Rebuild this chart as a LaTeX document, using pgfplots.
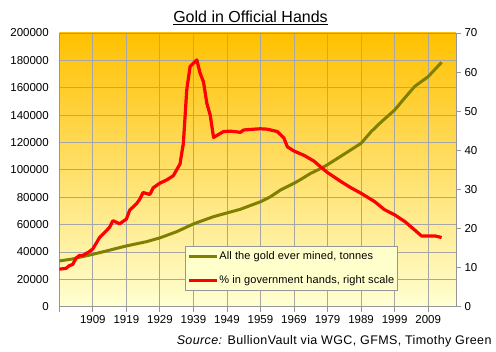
\documentclass[border=0pt]{standalone}
\usepackage{pgfplots}
\pgfplotsset{compat=1.18}
\usepackage{fontspec}
\setmainfont{Liberation Sans}
\definecolor{bgtop}{HTML}{FFC000}
\definecolor{bgmid}{HTML}{FFFF99}
\definecolor{bgbot}{HTML}{FFFFD2}
\definecolor{gridc}{HTML}{A6A6A6}
\definecolor{axc}{HTML}{969696}
\definecolor{oliveline}{HTML}{808000}
\definecolor{legfill}{HTML}{FFFFCC}
\begin{document}
\begin{tikzpicture}[x=1pt,y=1pt]
\useasboundingbox (0,0) rectangle (496,352);
\begin{axis}[
  at={(59.3pt,45.3pt)}, anchor=south west,
  scale only axis, width=396.7pt, height=273.7pt,
  xmin=1899, xmax=2017.3, ymin=0, ymax=200000,
  axis background/.style={top color=bgtop, middle color=bgmid, bottom color=bgbot},
  axis line style={draw=axc, line width=0.8pt},
  grid=major, major grid style={draw=gridc, line width=0.8pt},
  xtick={1899,1909,1919,1929,1939,1949,1959,1969,1979,1989,1999,2009},
  xticklabels={,1909,1919,1929,1939,1949,1959,1969,1979,1989,1999,2009},
  ytick={0,20000,...,200000},
  xtick pos=bottom, ytick pos=left,
  tick align=outside, major tick length=5pt,
  xtick style={draw=axc, line width=0.8pt},
  ytick style={draw=none},
  yticklabel style={xshift=-2pt},
  scaled y ticks=false,
  /pgf/number format/fixed,
  /pgf/number format/precision=0,
  /pgf/number format/1000 sep={},
  /pgf/number format/assume math mode=true,
  ticklabel style={font=\fontsize{11.5}{13}\selectfont, text=black},
  legend cell align=left,
  legend style={at={(0.3169,0.2218)}, anchor=north west,
    draw=axc, fill=legfill, line width=0.8pt,
    inner xsep=2pt, inner ysep=4.5pt, row sep=12pt,
    font=\fontsize{11}{13}\selectfont\addfontfeatures{LetterSpace=1},
    nodes={inner sep=1pt}},
  legend image code/.code={\draw[#1] (0pt,0pt) -- (28pt,0pt);},
]
\addplot[oliveline, line width=3pt] coordinates {
(1899,33.4e3) (1903,34.9e3) (1909,38.3e3) (1913,40.7e3) (1919,44.4e3)
(1925,47.5e3) (1929,50.3e3) (1934,54.8e3) (1939,60.5e3) (1945,65.8e3)
(1953,71.2e3) (1959,76.7e3) (1962,80.4e3) (1965,85.3e3) (1969,90.2e3)
(1971,93.0e3) (1974,97.5e3) (1977,101.0e3) (1979,103.8e3) (1983,110.0e3)
(1989,119.4e3) (1992,127.9e3) (1995,135.0e3) (1999,143.7e3) (2002,152.5e3)
(2005,161.0e3) (2009,168.1e3) (2013,178.6e3)
};
\addlegendentry{All the gold ever mined, tonnes}
\addlegendimage{red, line width=3pt}
\addlegendentry{\% in government hands, right scale}
\end{axis}
\begin{axis}[
  at={(59.3pt,45.3pt)}, anchor=south west,
  scale only axis, width=396.7pt, height=273.7pt,
  xmin=1899, xmax=2017.3, ymin=0, ymax=70,
  axis x line=none, axis y line*=right,
  axis line style={draw=axc, line width=0.8pt},
  ytick={0,10,...,70},
  tick align=outside, major tick length=5pt,
  ytick style={draw=axc, line width=0.8pt},
  /pgf/number format/fixed,
  /pgf/number format/assume math mode=true,
  ticklabel style={font=\fontsize{11.5}{13}\selectfont, text=black},
]
\addplot[red, line width=3.2pt, line join=round] coordinates {
(1899,9.6) (1901,9.8) (1902,10.5) (1903,10.8) (1904,12.4) (1905,13.1)
(1906,13.1) (1908,14.1) (1909,14.8) (1910,16.2) (1911,17.7) (1913,19.4)
(1914,20.3) (1915,22.0) (1917,21.2) (1919,22.4) (1920,24.7) (1922,26.3)
(1923,27.5) (1924,29.2) (1926,28.7) (1927,30.4) (1929,31.6) (1931,32.4)
(1933,33.5) (1934,35.0) (1935,36.5) (1936,41.8) (1937,55.4) (1938,61.4)
(1940,63.1) (1941,59.7) (1942,57.5) (1943,52.0) (1944,49.0) (1945,43.3)
(1947,44.3) (1948,44.8) (1950,44.9) (1953,44.6) (1954,45.2) (1957,45.4)
(1959,45.5) (1961,45.4) (1963,45.0) (1964,44.8) (1966,43.1) (1967,40.9)
(1969,39.8) (1972,38.7) (1975,37.2) (1977,35.7) (1979,34.3) (1983,32.0)
(1986,30.4) (1989,29.0) (1993,26.9) (1996,24.8) (1999,23.5) (2002,21.8)
(2005,19.6) (2007,18.1) (2011,18.1) (2013,17.7)
};
\end{axis}
\node[font=\fontsize{16}{19}\selectfont, anchor=base] at (250.5,329.3) {\underline{Gold in Official Hands}};
\node[anchor=base east, font=\fontsize{12.5}{14}\selectfont\addfontfeatures{LetterSpace=3}, inner sep=0pt] at (491.7,7) {\textit{Source:} BullionVault via WGC, GFMS, Timothy Green};
\end{tikzpicture}
\end{document}
